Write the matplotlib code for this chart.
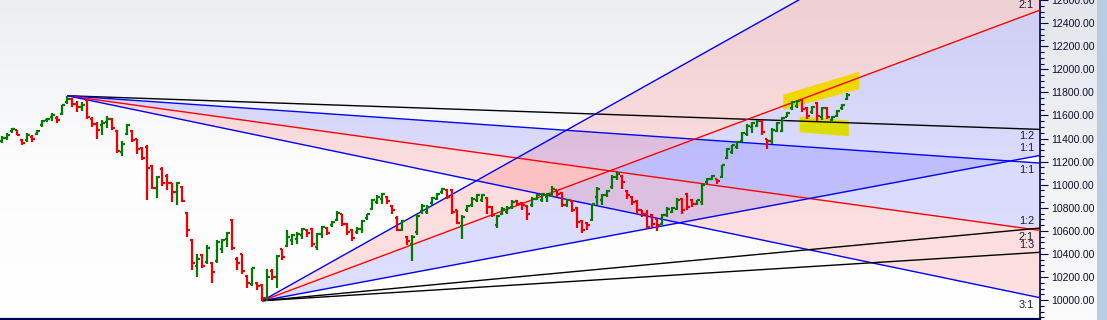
import numpy as np
import matplotlib
matplotlib.use("Agg")
import matplotlib.pyplot as plt
from matplotlib.colors import LinearSegmentedColormap
from matplotlib.ticker import FixedLocator, MultipleLocator, FormatStrFormatter

# ---------------- data (OHLC per bar) ----------------
opens = [11377, 11406, 11463, 11472, 11385, 11385, 11414, 11443, 11515, 11558,
         11587, 11578, 11610, 11717, 11740, 11702, 11674, 11731, 11573, 11530,
         11515, 11544, 11567, 11463, 11285, 11443, 11463, 11394, 11319, 11328,
         11164, 10974, 11140, 11077, 11011, 10933, 10982, 10752, 10521, 10291,
         10391, 10334, 10319, 10337, 10446, 10533, 10691, 10360, 10397, 10207,
         10138, 10144, 10129, 10014, 10253, 10202, 10441, 10467, 10518, 10533,
         10562, 10611, 10619, 10461, 10576, 10628, 10648, 10697, 10743, 10662,
         10611, 10590, 10619, 10714, 10792, 10850, 10879, 10893, 10815, 10714,
         10611, 10547, 10490, 10590, 10772, 10763, 10841, 10878, 10936, 10956,
         10950, 10777, 10639, 10777, 10821, 10864, 10870, 10887, 10806, 10648,
         10749, 10763, 10806, 10858, 10841, 10812, 10821, 10878, 10864, 10893,
         10907, 10950, 10927, 10821, 10858, 10801, 10685, 10668, 10691, 10893,
         10864, 10907, 10979, 11066, 11071, 10944, 10893, 10859, 10778, 10743,
         10735, 10700, 10663, 10735, 10764, 10792, 10876, 10922, 10870, 10836,
         10850, 11023, 11052, 11046, 11066, 11233, 11282, 11325, 11383, 11441,
         11498, 11513, 11556, 11392, 11377, 11469, 11469, 11590, 11665, 11686,
         11734, 11665, 11628, 11706, 11585, 11665, 11562, 11599, 11665, 11743]
highs = [11420, 11449, 11492, 11478, 11400, 11449, 11429, 11478, 11558, 11581,
         11625, 11593, 11694, 11771, 11751, 11723, 11717, 11751, 11587, 11544,
         11558, 11596, 11578, 11472, 11377, 11524, 11472, 11400, 11328, 11342,
         11169, 11077, 11149, 11089, 11017, 11025, 10991, 10760, 10530, 10397,
         10400, 10478, 10334, 10518, 10527, 10590, 10700, 10369, 10403, 10216,
         10282, 10158, 10135, 10265, 10265, 10389, 10446, 10605, 10576, 10590,
         10628, 10619, 10628, 10582, 10642, 10634, 10686, 10769, 10749, 10671,
         10619, 10634, 10697, 10749, 10879, 10907, 10930, 10899, 10821, 10726,
         10697, 10553, 10562, 10749, 10830, 10821, 10893, 10927, 10973, 10965,
         10959, 10783, 10734, 10821, 10893, 10921, 10921, 10893, 10812, 10734,
         10806, 10812, 10864, 10864, 10849, 10821, 10893, 10921, 10927, 10927,
         10985, 10956, 10936, 10878, 10864, 10806, 10691, 10677, 10835, 10979,
         10921, 10950, 11080, 11109, 11080, 10950, 10899, 10864, 10784, 10780,
         10743, 10710, 10749, 10807, 10807, 10885, 10885, 10931, 10879, 10870,
         11008, 11060, 11081, 11052, 11173, 11320, 11348, 11383, 11455, 11527,
         11541, 11562, 11562, 11397, 11492, 11541, 11585, 11628, 11729, 11734,
         11743, 11671, 11686, 11714, 11671, 11671, 11599, 11648, 11700, 11792]
lows = [11362, 11385, 11452, 11429, 11342, 11371, 11371, 11429, 11501, 11544,
        11550, 11535, 11602, 11702, 11674, 11630, 11636, 11567, 11501, 11394,
        11434, 11492, 11472, 11279, 11247, 11434, 11371, 11264, 11218, 10867,
        10959, 10887, 10988, 10953, 10852, 10824, 10847, 10550, 10262, 10196,
        10276, 10311, 10152, 10325, 10409, 10461, 10438, 10259, 10222, 10101,
        10121, 10086, 9994, 9994, 10173, 10101, 10346, 10461, 10475, 10490,
        10533, 10547, 10461, 10438, 10542, 10562, 10634, 10686, 10642, 10562,
        10510, 10570, 10582, 10697, 10778, 10835, 10835, 10835, 10749, 10599,
        10599, 10475, 10337, 10562, 10749, 10749, 10826, 10864, 10921, 10878,
        10749, 10656, 10533, 10763, 10806, 10849, 10849, 10743, 10720, 10628,
        10734, 10749, 10792, 10812, 10777, 10697, 10806, 10864, 10849, 10849,
        10893, 10893, 10806, 10806, 10763, 10628, 10582, 10610, 10682, 10821,
        10821, 10893, 10965, 11042, 10965, 10878, 10821, 10749, 10720, 10620,
        10630, 10595, 10648, 10720, 10755, 10778, 10743, 10778, 10807, 10821,
        10821, 11008, 11037, 11008, 11060, 11225, 11268, 11311, 11369, 11426,
        11446, 11498, 11435, 11311, 11354, 11455, 11455, 11585, 11648, 11665,
        11628, 11570, 11613, 11556, 11562, 11570, 11556, 11585, 11648, 11734]
closes = [11406, 11434, 11486, 11434, 11362, 11429, 11394, 11463, 11553, 11573,
          11607, 11558, 11688, 11746, 11702, 11674, 11694, 11587, 11530, 11472,
          11535, 11573, 11492, 11293, 11357, 11515, 11385, 11308, 11233, 11146,
          10974, 11069, 11011, 11011, 10933, 11011, 10861, 10608, 10325, 10357,
          10291, 10455, 10242, 10504, 10518, 10582, 10452, 10317, 10253, 10150,
          10274, 10121, 10014, 10202, 10202, 10380, 10369, 10547, 10562, 10576,
          10619, 10582, 10490, 10576, 10634, 10582, 10677, 10758, 10662, 10590,
          10541, 10619, 10686, 10743, 10864, 10893, 10916, 10858, 10778, 10611,
          10686, 10513, 10547, 10726, 10812, 10806, 10884, 10921, 10965, 10893,
          10763, 10668, 10720, 10812, 10878, 10907, 10913, 10806, 10734, 10726,
          10792, 10801, 10849, 10829, 10821, 10743, 10878, 10913, 10916, 10916,
          10965, 10921, 10821, 10864, 10783, 10677, 10610, 10648, 10829, 10965,
          10907, 10944, 11066, 11094, 11022, 10907, 10850, 10778, 10743, 10634,
          10657, 10648, 10735, 10792, 10801, 10870, 10778, 10807, 10830, 10864,
          10994, 11052, 11072, 11032, 11167, 11311, 11340, 11374, 11446, 11513,
          11533, 11556, 11455, 11377, 11475, 11533, 11576, 11622, 11714, 11723,
          11657, 11599, 11677, 11599, 11665, 11585, 11590, 11642, 11691, 11781]

# Gann fans: anchor bar index, anchor price, 1x1 slope (price per bar)
high_fan_anchor = (13, 11771)
high_fan_unit = -3.0
high_fan_ratios = ["1:2", "1:1", "2:1", "3:1"]
high_fan_mult = [0.5, 1.0, 2.0, 3.0]
high_fan_colors = ["black", "#0000ff", "#ff0000", "#0000ff"]

low_fan_anchor = (52, 9994)
low_fan_unit = 8.1
low_fan_ratios = ["3:1", "2:1", "1:1", "1:2", "1:3"]
low_fan_mult = [3.0, 2.0, 1.0, 0.5, 1.0 / 3.0]
low_fan_colors = ["#0000ff", "#ff0000", "#0000ff", "black", "black"]

# yellow highlight marks (bar index, price)
highlight_upper_x = [156.2, 171.4, 171.4, 156.2]
highlight_upper_y = [11780, 11979, 11829, 11648]
highlight_lower_x = [159.5, 169.3, 169.3, 159.5]
highlight_lower_y = [11590, 11556, 11420, 11455]

y_ticks = list(range(10000, 12601, 200))

# ---------------- figure ----------------
W, H = 1107, 320
fig = plt.figure(figsize=(W / 100, H / 100), dpi=100)
fig.patch.set_facecolor("white")

ax_left, ax_bottom = 0.0, 1.5 / H
ax_w, ax_h = 1040 / W, 318.5 / H

# background gradient of plot area
bg = fig.add_axes([ax_left, ax_bottom, ax_w, ax_h], zorder=-2)
cmap_bg = LinearSegmentedColormap.from_list("bg", ["#ffffff", "#fcfcfd", "#eceef2"])
bg.imshow(np.linspace(0, 1, 256).reshape(-1, 1), cmap=cmap_bg, origin="lower",
          aspect="auto", extent=[0, 1, 0, 1])
bg.set_axis_off()

# right panel gradient
rp = fig.add_axes([1040 / W, 0, (1097 - 1040) / W, 1], zorder=-2)
cmap_rp = LinearSegmentedColormap.from_list("rp", ["#fbfbfc", "#e3e7ec"])
rp.imshow(np.linspace(0, 1, 256).reshape(-1, 1), cmap=cmap_rp, origin="lower",
          aspect="auto", extent=[0, 1, 0, 1])
rp.set_axis_off()
fig.patches.append(plt.Rectangle((1097 / W, 0), 10 / W, 1, transform=fig.transFigure,
                                 facecolor="#b8cce4", edgecolor="none", zorder=-1))

ax = fig.add_axes([ax_left, ax_bottom, ax_w, ax_h], zorder=1)
ax.set_facecolor("none")
xmin, xmax = -0.46, 207.54
ax.set_xlim(xmin, xmax)
ax.set_ylim(9840, 12601)

navy = "#000050"
for s in ["top", "left"]:
    ax.spines[s].set_visible(False)
ax.spines["right"].set_color(navy)
ax.spines["right"].set_linewidth(1.2)
ax.spines["bottom"].set_color(navy)
ax.spines["bottom"].set_linewidth(1.6)
ax.xaxis.set_visible(False)
ax.yaxis.tick_right()
ax.yaxis.set_major_locator(FixedLocator(y_ticks))
ax.yaxis.set_minor_locator(MultipleLocator(50))
ax.yaxis.set_major_formatter(FormatStrFormatter("%.2f"))
ax.tick_params(axis="y", which="major", length=6, width=0.8, color=navy, pad=2,
               labelsize=7.6, labelcolor="#101030")
ax.tick_params(axis="y", which="minor", length=3, width=0.8, color=navy)
for lab in ax.get_yticklabels():
    lab.set_fontfamily("Liberation Sans")

ax_top_px = fig.bbox.height  # top of axes in display pixels


def draw_fan(anchor, unit, mults, colors, ratios, label_dy):
    x0, p0 = anchor
    xs = np.array([x0, xmax])
    lines = []
    lo, hi = ax.get_ylim()
    for m, c, r in zip(mults, colors, ratios):
        ys = p0 + unit * m * (xs - x0)
        lines.append(ys)
        ax.plot(xs, ys, color=c, lw=1.0, zorder=3, solid_capstyle="butt")
        if lo <= ys[-1] <= hi:
            end_px = ax.transData.transform((xmax, ys[-1]))[1]
            dy = label_dy
            if end_px + dy > ax_top_px - 5:
                dy = ax_top_px - 5 - end_px
            ax.annotate(r, xy=(xmax, ys[-1]), xytext=(-6, dy),
                        textcoords="offset pixels", ha="right", va="center",
                        fontsize=7.8, color="#1a1a33", family="Liberation Sans",
                        zorder=6, annotation_clip=False)
    return xs, lines


pink = (1.0, 0.0, 0.0, 0.12)
blue = (0.0, 0.0, 1.0, 0.13)

xs_h, l_h = draw_fan(high_fan_anchor, high_fan_unit, high_fan_mult, high_fan_colors,
                     high_fan_ratios, -7)
i31 = high_fan_ratios.index("3:1"); i21 = high_fan_ratios.index("2:1"); i11 = high_fan_ratios.index("1:1")
ax.fill_between(xs_h, l_h[i31], l_h[i21], color=pink, lw=0, zorder=1)
ax.fill_between(xs_h, l_h[i21], l_h[i11], color=blue, lw=0, zorder=1)

xs_l, l_l = draw_fan(low_fan_anchor, low_fan_unit, low_fan_mult, low_fan_colors,
                     low_fan_ratios, 7)
i31 = low_fan_ratios.index("3:1"); i21 = low_fan_ratios.index("2:1"); i11 = low_fan_ratios.index("1:1")
ax.fill_between(xs_l, l_l[i31], l_l[i21], color=pink, lw=0, zorder=1)
ax.fill_between(xs_l, l_l[i21], l_l[i11], color=blue, lw=0, zorder=1)

# yellow highlights
ax.fill(highlight_upper_x, highlight_upper_y, color="#f0d800", lw=0, zorder=2)
ax.fill(highlight_lower_x, highlight_lower_y, color="#dcdc00", lw=0, zorder=2)

# OHLC bars
o = np.array(opens); h = np.array(highs); l = np.array(lows); c = np.array(closes)
x = np.arange(len(o))
cols = np.where(c >= o, "#007a00", "#f00000")
tick = 0.5
ax.vlines(x, l, h, colors=cols, lw=1.6, zorder=4)
ax.hlines(o, x - tick, x, colors=cols, lw=1.6, zorder=4)
ax.hlines(c, x, x + tick, colors=cols, lw=1.6, zorder=4)

fig.savefig("out.png", dpi=100)
